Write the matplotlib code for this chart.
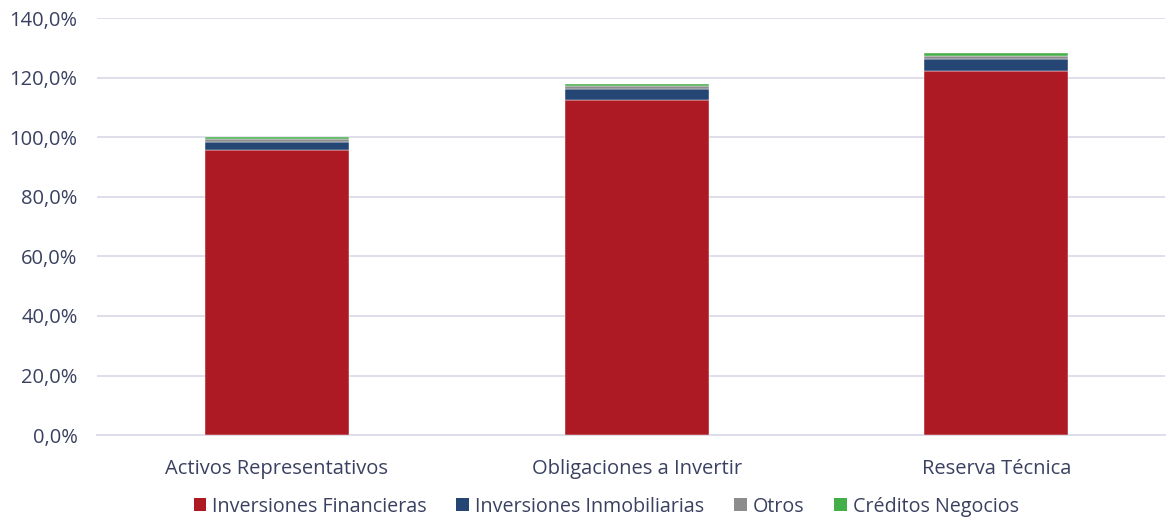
import matplotlib
matplotlib.use("Agg")
import matplotlib.pyplot as plt
from matplotlib.ticker import FuncFormatter
from matplotlib.patches import Patch

categories = ["Activos Representativos", "Obligaciones a Invertir", "Reserva Técnica"]
series_names = ["Inversiones Financieras", "Inversiones Inmobiliarias", "Otros", "Créditos Negocios"]
inv_financieras = [95.6, 112.6, 122.4]
inv_inmobiliarias = [2.8, 3.6, 3.9]
otros = [0.9, 1.1, 1.1]
creditos = [0.7, 0.6, 0.8]
colors = ["#AE1A24", "#254574", "#8C8C8C", "#44AE48"]

plt.rcParams['font.family'] = ['Open Sans', 'DejaVu Sans']
txt = "#3A4160"

fig = plt.figure(figsize=(11.7, 5.18), dpi=100)
ax = fig.add_axes([0.083, 0.160, 0.913, 0.805])

x = list(range(len(categories)))
bottom = [0.0] * len(categories)
for vals, col in zip([inv_financieras, inv_inmobiliarias, otros, creditos], colors):
    ax.bar(x, vals, width=0.4, bottom=bottom, color=col, edgecolor="white", linewidth=0.3, zorder=3)
    bottom = [b + v for b, v in zip(bottom, vals)]

ax.set_ylim(0, 140)
ax.set_xlim(-0.5, 2.47)
ax.set_yticks(range(0, 141, 20))
ax.yaxis.set_major_formatter(FuncFormatter(lambda v, p: f"{v:.1f}%".replace(".", ",")))
ax.grid(axis="y", color="#DCDCEA", linewidth=1.3, zorder=0)
for s in ["top", "right", "left"]:
    ax.spines[s].set_visible(False)
ax.spines["bottom"].set_color("#DCDCEA")
ax.spines["bottom"].set_linewidth(1.3)
ax.set_xticks(x)
ax.set_xticklabels(categories)
ax.tick_params(axis="both", length=0, labelsize=14.5, colors=txt)
ax.tick_params(axis="y", pad=14)
ax.tick_params(axis="x", pad=17)

handles = [Patch(facecolor=c, label=n) for c, n in zip(colors, series_names)]
fig.legend(handles=handles, loc="center", bbox_to_anchor=(0.518, 0.022), ncol=4, frameon=False,
           fontsize=14.2, labelcolor=txt, handlelength=0.65, handleheight=0.65, handletextpad=0.3,
           columnspacing=1.5)

fig.savefig("out.png", dpi=100)
